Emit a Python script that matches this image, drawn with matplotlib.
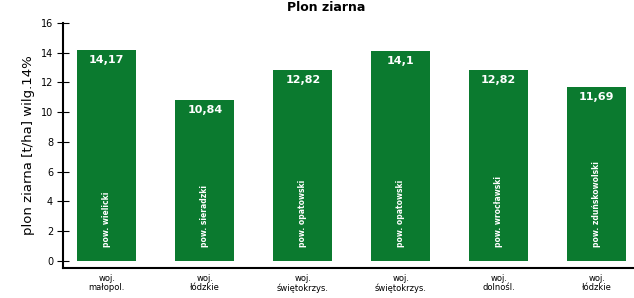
import matplotlib.pyplot as plt
import numpy as np
from matplotlib import font_manager

names = {f.name for f in font_manager.fontManager.ttflist}
fam = ['Liberation Sans Narrow', 'DejaVu Sans'] if 'Liberation Sans Narrow' in names else ['DejaVu Sans']
plt.rcParams['font.family'] = fam

regions = ['woj.\nmałopol.', 'woj.\nłódzkie', 'woj.\nświętokrzys.', 'woj.\nświętokrzys.', 'woj.\ndolnośl.', 'woj.\nłódzkie']
counties = ['pow. wielicki', 'pow. sieradzki', 'pow. opatowski', 'pow. opatowski', 'pow. wrocławski', 'pow. zduńskowolski']
yields = [14.17, 10.84, 12.82, 14.1, 12.82, 11.69]
labels = ['14,17', '10,84', '12,82', '14,1', '12,82', '11,69']

green = '#0b7a2f'
fig = plt.figure(figsize=(6.34, 2.98), dpi=100)
ax = fig.add_axes([0.099, 0.1, 0.901, 0.823])
x = np.arange(len(yields))
ax.bar(x, yields, width=0.6, color=green)
for i in range(len(yields)):
    ax.text(x[i], yields[i] - 0.35, labels[i], ha='center', va='top', color='white', fontsize=8, fontweight='bold')
    ax.text(x[i], 0.9, counties[i], ha='center', va='bottom', rotation=90, color='white', fontsize=5.5, fontweight='bold')

ax.set_xlim(-0.45, 5.38)
ax.set_ylim(-0.5, 16)
ax.set_yticks(range(0, 17, 2))
ax.tick_params(axis='y', direction='inout', length=8, labelsize=7, pad=3)
ax.set_xticks(x)
ax.set_xticklabels(regions, fontsize=6, linespacing=1.1)
ax.tick_params(axis='x', length=0, pad=4)
ax.spines['top'].set_visible(False)
ax.spines['right'].set_visible(False)
ax.spines['left'].set_linewidth(1.5)
ax.spines['bottom'].set_linewidth(1.5)
ax.set_ylabel('plon ziarna [t/ha] wilg.14%', fontsize=9.5, labelpad=4)
fig.text(0.515, 0.997, 'Plon ziarna', ha='center', va='top', fontsize=9, fontweight='bold')

fig.savefig('out.png', dpi=100)
